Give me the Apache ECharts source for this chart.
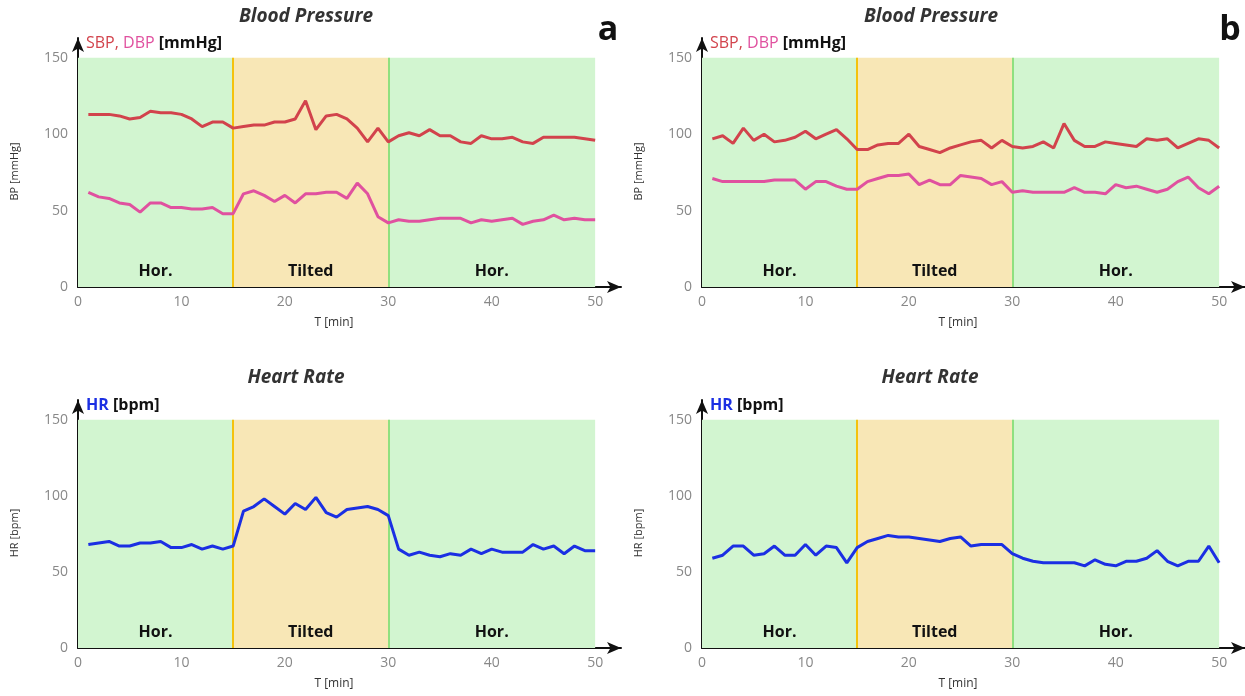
<!DOCTYPE html>
<html>
<head>
<meta charset="utf-8">
<script src="https://cdn.jsdelivr.net/npm/echarts@6/dist/echarts.min.js"></script>
<style>html,body{margin:0;padding:0;background:#fff}#c{width:1245px;height:696px}</style>
</head>
<body>
<div id="c"></div>
<script>
const minutes = [1,2,3,4,5,6,7,8,9,10,11,12,13,14,15,16,17,18,19,20,21,22,23,24,25,26,27,28,29,30,31,32,33,34,35,36,37,38,39,40,41,42,43,44,45,46,47,48,49,50];
const xTicks = [0,10,20,30,40,50];
const yTicks = [0,50,100,150];
const phases = [
  {name: 'Hor.', from: 0, to: 15},
  {name: 'Tilted', from: 15, to: 30},
  {name: 'Hor.', from: 30, to: 50}
];
const sbpA = [113,113,113,112,110,111,115,114,114,113,110,105,108,108,104,105,106,106,108,108,110,122,103,112,113,110,104,95,104,95,99,101,99,103,99,99,95,94,99,97,97,98,95,94,98,98,98,98,97,96];
const dbpA = [62,59,58,55,54,49,55,55,52,52,51,51,52,48,48,61,63,60,56,60,55,61,61,62,62,58,68,61,46,42,44,43,43,44,45,45,45,42,44,43,44,45,41,43,44,47,44,45,44,44];
const sbpB = [97,99,94,104,96,100,95,96,98,102,97,100,103,97,90,90,93,94,94,100,92,90,88,91,93,95,96,91,96,92,91,92,95,91,107,96,92,92,95,94,93,92,97,96,97,91,94,97,96,91];
const dbpB = [71,69,69,69,69,69,70,70,70,64,69,69,66,64,64,69,71,73,73,74,67,70,67,67,73,72,71,67,69,62,63,62,62,62,62,65,62,62,61,67,65,66,64,62,64,69,72,65,61,66];
const hrA = [68,69,70,67,67,69,69,70,66,66,68,65,67,65,67,90,93,98,93,88,95,91,99,89,86,91,92,93,91,87,65,61,63,61,60,62,61,65,62,65,63,63,63,68,65,67,62,67,64,64];
const hrB = [59,61,67,67,61,62,67,61,61,68,61,67,66,56,66,70,72,74,73,73,72,71,70,72,73,67,68,68,68,62,59,57,56,56,56,56,54,58,55,54,57,57,59,64,57,54,57,57,67,56];

const C_SBP = '#d2434c', C_DBP = '#e0519f', C_HR = '#1b2fe3';
const GREEN = '#d2f5d0', YELLOW = '#f8e7b6';
const FONT = 'Open Sans';

const grids = [
  {left: 78, width: 543, top: 38, height: 249},
  {left: 702, width: 543, top: 38, height: 249},
  {left: 78, width: 543, top: 400, height: 248},
  {left: 702, width: 543, top: 400, height: 248}
];

const xAxes = grids.map((g, i) => ({
  type: 'value', gridIndex: i, min: 0, max: 52.5, interval: 10,
  axisLine: {show: true, lineStyle: {color: '#111', width: 2}, symbol: ['none', 'arrow'], symbolSize: [9, 14]},
  axisTick: {show: false}, splitLine: {show: false},
  axisLabel: {color: '#888', fontSize: 14, fontFamily: FONT, margin: 8, showMaxLabel: false,
    formatter: v => xTicks.indexOf(v) >= 0 ? String(v) : ''}
}));
const yAxes = grids.map((g, i) => ({
  type: 'value', gridIndex: i, min: 0, max: 163, interval: 50,
  name: i < 2 ? 'BP [mmHg]' : 'HR [bpm]', nameLocation: 'middle', nameGap: 58,
  nameTextStyle: {color: '#333', fontSize: 11, fontFamily: FONT, padding: [0, 0, 0, -18]},
  axisLine: {show: true, onZero: false, lineStyle: {color: '#111', width: 2}, symbol: ['none', 'arrow'], symbolSize: [9, 14]},
  axisTick: {show: false}, splitLine: {show: false},
  axisLabel: {color: '#888', fontSize: 14, fontFamily: FONT, margin: 10, showMaxLabel: false,
    formatter: v => yTicks.indexOf(v) >= 0 ? String(v) : ''}
}));

function pairs(vals) { return minutes.map((t, k) => [t, vals[k]]); }

function background() {
  return {
    silent: true,
    label: {show: true, position: 'insideBottom', distance: 8, color: '#111', fontSize: 16, fontWeight: 'bold', fontFamily: FONT},
    data: phases.map(p => [
      {name: p.name, xAxis: p.from, yAxis: 0, itemStyle: {color: p.name === 'Tilted' ? YELLOW : GREEN}},
      {xAxis: p.to, yAxis: 150}
    ])
  };
}
function dividers() {
  return {
    silent: true, symbol: 'none', label: {show: false},
    data: [
      [{coord: [15, 0], lineStyle: {color: '#f4c20d', width: 2, type: 'solid'}}, {coord: [15, 150]}],
      [{coord: [30, 0], lineStyle: {color: '#8fe07f', width: 2, type: 'solid'}}, {coord: [30, 150]}]
    ]
  };
}
function line(i, vals, color, withBg) {
  const s = {
    type: 'line', xAxisIndex: i, yAxisIndex: i, data: pairs(vals), symbol: 'none',
    lineStyle: {color: color, width: 3}, itemStyle: {color: color}, z: 5
  };
  if (withBg) { s.markArea = background(); s.markLine = dividers(); }
  return s;
}

const series = [
  line(0, sbpA, C_SBP, true), line(0, dbpA, C_DBP, false),
  line(1, sbpB, C_SBP, true), line(1, dbpB, C_DBP, false),
  line(2, hrA, C_HR, true),
  line(3, hrB, C_HR, true)
];

const titleFont = 'italic bold 19px "Open Sans"';
function txt(x, y, text, font, color, align) {
  return {type: 'text', x: x, y: y, silent: true,
    style: {text: text, font: font, fill: color || '#333', align: align || 'center', verticalAlign: 'middle'}};
}
function richName(x, y, parts) {
  return {type: 'text', x: x, y: y, silent: true,
    style: {text: parts.map(p => '{' + p[0] + '|' + p[1] + '}').join(''), align: 'left', verticalAlign: 'middle',
      rich: {
        r: {fill: C_SBP, font: '16px "Open Sans"'},
        p: {fill: C_DBP, font: '16px "Open Sans"'},
        b: {fill: C_HR, font: 'bold 16px "Open Sans"'},
        k: {fill: '#111', font: 'bold 16px "Open Sans"'}
      }}};
}

const graphic = [
  txt(306, 17, 'Blood Pressure', titleFont, '#333'),
  txt(931, 17, 'Blood Pressure', titleFont, '#333'),
  txt(296, 378, 'Heart Rate', titleFont, '#333'),
  txt(930, 378, 'Heart Rate', titleFont, '#333'),
  txt(608, 30, 'a', 'bold 34px "Open Sans"', '#111'),
  txt(1230, 30, 'b', 'bold 34px "Open Sans"', '#111'),
  txt(334, 323, 'T [min]', '12px "Open Sans"', '#333'),
  txt(958, 323, 'T [min]', '12px "Open Sans"', '#333'),
  txt(334, 684, 'T [min]', '12px "Open Sans"', '#333'),
  txt(958, 684, 'T [min]', '12px "Open Sans"', '#333'),
  richName(86, 43, [['r', 'SBP, '], ['p', 'DBP'], ['k', ' [mmHg]']]),
  richName(710, 43, [['r', 'SBP, '], ['p', 'DBP'], ['k', ' [mmHg]']]),
  richName(86, 405, [['b', 'HR'], ['k', ' [bpm]']]),
  richName(710, 405, [['b', 'HR'], ['k', ' [bpm]']])
];

const chart = echarts.init(document.getElementById('c'), null, {renderer: 'canvas'});
chart.setOption({
  animation: false,
  backgroundColor: '#fff',
  textStyle: {fontFamily: FONT},
  grid: grids,
  xAxis: xAxes,
  yAxis: yAxes,
  series: series,
  graphic: graphic
});
</script>
</body>
</html>
